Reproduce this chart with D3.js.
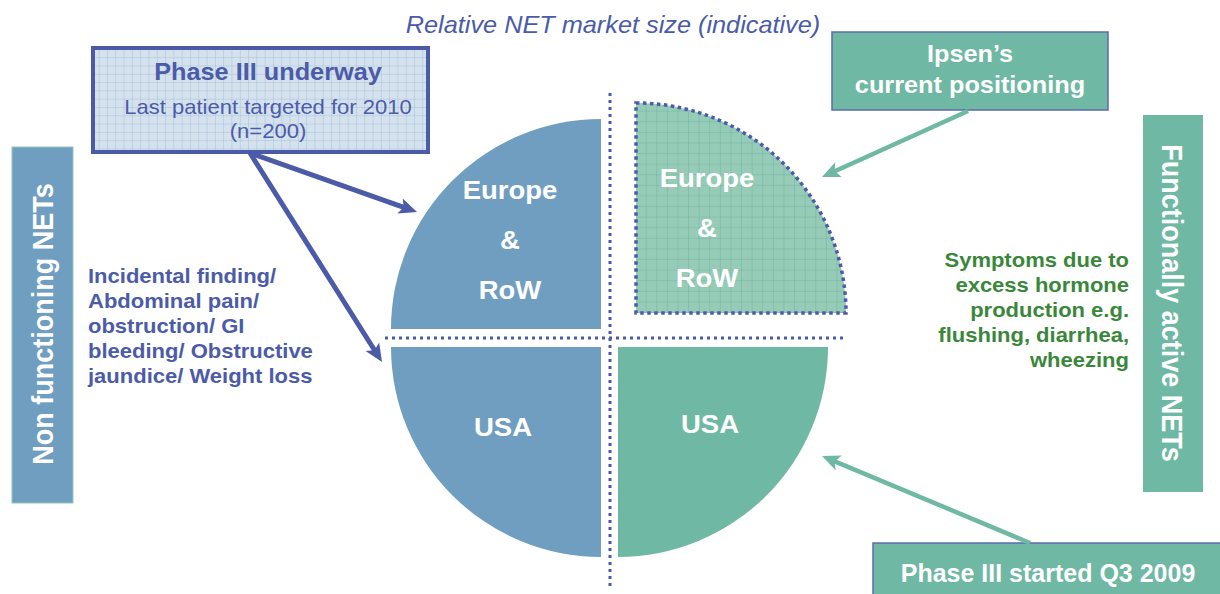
<!DOCTYPE html>
<html>
<head>
<meta charset="utf-8">
<script src="https://cdn.jsdelivr.net/npm/d3@7"></script>
<style>
  body { margin: 0; background: #fff; }
  svg { display: block; }
  text { font-family: "Liberation Sans", Arial, sans-serif; }
</style>
</head>
<body>
<svg id="chart" width="1220" height="594"></svg>
<script>
// Data ---------------------------------------------------------------
const quadrants = ["topLeft", "bottomLeft", "topRight", "bottomRight"];
const regions = ["Europe & RoW", "USA", "Europe & RoW", "USA"];
const segments = ["non functioning", "non functioning", "functionally active", "functionally active"];
const relSize = [1.0, 1.0, 1.0, 1.0]; // relative NET market size (indicative)

const leftNotes = ["Incidental finding/", "Abdominal pain/", "obstruction/ GI", "bleeding/ Obstructive", "jaundice/ Weight loss"];
const rightNotes = ["Symptoms due to", "excess hormone", "production e.g.", "flushing, diarrhea,", "wheezing"];
const trialBox = ["Phase III underway", "Last patient targeted for 2010", "(n=200)"];
const ipsenBox = ["Ipsen\u2019s", "current positioning"];
// --------------------------------------------------------------------

const svg = d3.select("#chart");
const blue = "#709ec1", green = "#6fb8a3", navy = "#4b5ba8", darkGreen = "#3a873c";
const sx = 1.1; // horizontal stretch seen in the source text

// kde sedi kazdy kvadrant (rozhodeny kolac)
const layout = {
  topLeft:     { cx: 601, cy: 329, a0: -Math.PI / 2, a1: 0,               lx: 510, ly: 240 },
  bottomLeft:  { cx: 601, cy: 347, a0: Math.PI,      a1: 3 * Math.PI / 2, lx: 503, ly: 427 },
  topRight:    { cx: 636, cy: 313, a0: 0,            a1: Math.PI / 2,     lx: 707, ly: 228 },
  bottomRight: { cx: 618, cy: 347, a0: Math.PI / 2,  a1: Math.PI,         lx: 710, ly: 424 }
};

const r = d3.scaleSqrt().domain([0, 1]).range([0, 210]);
const arc = d3.arc().innerRadius(0);

// vzory mriezky
const defs = svg.append("defs");
function gridPattern(id, size, fill, line) {
  const p = defs.append("pattern").attr("id", id)
    .attr("patternUnits", "userSpaceOnUse").attr("width", size).attr("height", size);
  p.append("rect").attr("width", size).attr("height", size).attr("fill", fill);
  p.append("path").attr("d", `M${size},0V${size}M0,${size}H${size}`)
    .attr("stroke", line).attr("stroke-width", 1).attr("fill", "none");
}
gridPattern("gridBlue", 8.3, "#d5e2ee", "#a2bfd9");
gridPattern("gridGreen", 10.6, "#96cbb8", "#70b59e");

function marker(id, color) {
  defs.append("marker").attr("id", id)
    .attr("viewBox", "0 -9 20 18").attr("refX", 18).attr("refY", 0)
    .attr("markerUnits", "userSpaceOnUse").attr("markerWidth", 20).attr("markerHeight", 18)
    .attr("orient", "auto")
    .append("path").attr("d", "M0,-8L18,0L0,8L4,0Z").attr("fill", color);
}
marker("headBlue", navy);
marker("headGreen", green);

function txt(x, y, s, o) {
  return svg.append("text")
    .attr("transform", `translate(${x},${y}) scale(${o.sx || sx},1)`)
    .attr("text-anchor", o.anchor || "middle")
    .attr("font-size", o.size)
    .attr("font-weight", o.bold ? "bold" : "normal")
    .attr("font-style", o.italic ? "italic" : "normal")
    .attr("fill", o.color)
    .text(s);
}

function arrow(x1, y1, x2, y2, color, w, head) {
  const len = Math.hypot(x2 - x1, y2 - y1);
  const k = (len - 8) / len;
  svg.append("line")
    .attr("x1", x1).attr("y1", y1)
    .attr("x2", x1 + (x2 - x1) * k).attr("y2", y1 + (y2 - y1) * k)
    .attr("stroke", color).attr("stroke-width", w);
  // samotna hlava sipky na presnom hrote
  svg.append("line")
    .attr("x1", x1 + (x2 - x1) * k).attr("y1", y1 + (y2 - y1) * k)
    .attr("x2", x2).attr("y2", y2)
    .attr("stroke", "none").attr("marker-end", `url(#${head})`);
}

// Nadpis
txt(613, 33, "Relative NET market size (indicative)", { size: 23, italic: true, color: navy });

// Kvadranty
const quads = svg.append("g");
quadrants.forEach((q, i) => {
  const L = layout[q];
  const fill = q === "topRight" ? "url(#gridGreen)" : (segments[i] === "non functioning" ? blue : green);
  const path = arc.outerRadius(r(relSize[i])).startAngle(L.a0).endAngle(L.a1)();
  quads.append("path")
    .attr("transform", `translate(${L.cx},${L.cy})`)
    .attr("d", path)
    .attr("fill", fill)
    .attr("stroke", q === "topRight" ? navy : "none")
    .attr("stroke-width", 3.5)
    .attr("stroke-dasharray", "3.5,3.5");

  const lines = regions[i] === "USA" ? ["USA"] : ["Europe", "&", "RoW"];
  lines.forEach((s, j) => {
    const dy = (j - (lines.length - 1) / 2) * 50 + 9;
    txt(L.lx, L.ly + dy, s, { size: 25, bold: true, color: "#fff" });
  });
});

// Bodkovane osi
svg.append("line").attr("x1", 385).attr("x2", 847).attr("y1", 338).attr("y2", 338)
  .attr("stroke", navy).attr("stroke-width", 3).attr("stroke-dasharray", "3,4");
svg.append("line").attr("x1", 610).attr("x2", 610).attr("y1", 93).attr("y2", 586)
  .attr("stroke", navy).attr("stroke-width", 3).attr("stroke-dasharray", "3,4");

// Box "Phase III underway"
svg.append("rect").attr("x", 93).attr("y", 48).attr("width", 335).attr("height", 104)
  .attr("fill", "url(#gridBlue)").attr("stroke", navy).attr("stroke-width", 4);
txt(268, 80, trialBox[0], { size: 23, bold: true, color: navy });
txt(268, 114, trialBox[1], { size: 20, color: navy });
txt(268, 138, trialBox[2], { size: 20, color: navy });

arrow(250, 153, 417, 212, navy, 5, "headBlue");
arrow(250, 153, 382, 362, navy, 5, "headBlue");

// Box "Ipsen's current positioning"
svg.append("rect").attr("x", 832).attr("y", 32).attr("width", 276).attr("height", 78)
  .attr("fill", green).attr("stroke", "#5b6bb0").attr("stroke-width", 1.5);
txt(970, 62, ipsenBox[0], { size: 23, bold: true, color: "#fff" });
txt(970, 93, ipsenBox[1], { size: 23, bold: true, color: "#fff" });
arrow(968, 111, 822, 177, green, 4.5, "headGreen");

// Box "Phase III started"
svg.append("rect").attr("x", 873).attr("y", 543).attr("width", 360).attr("height", 60)
  .attr("fill", green).attr("stroke", "#5b6bb0").attr("stroke-width", 1.5);
txt(1048, 582, "Phase III started Q3 2009", { size: 25, sx: 1.0, bold: true, color: "#fff" });
arrow(1030, 543, 822, 456, green, 4.5, "headGreen");

// Bocne stitky
svg.append("rect").attr("x", 12).attr("y", 147).attr("width", 61).attr("height", 356)
  .attr("fill", blue).attr("stroke", "#8fcab6").attr("stroke-width", 1);
svg.append("text")
  .attr("transform", "translate(53,324) rotate(-90) scale(1,1.1)")
  .attr("text-anchor", "middle").attr("font-size", 27).attr("font-weight", "bold")
  .attr("fill", "#fff").text("Non functioning NETs");

svg.append("rect").attr("x", 1143).attr("y", 115).attr("width", 60).attr("height", 377)
  .attr("fill", green);
svg.append("text")
  .attr("transform", "translate(1162,303) rotate(90) scale(1,1.1)")
  .attr("text-anchor", "middle").attr("font-size", 27).attr("font-weight", "bold")
  .attr("fill", "#fff").text("Functionally active NETs");

// Popisy symptomov
leftNotes.forEach((s, i) => txt(88, 283 + i * 25, s, { size: 20, bold: true, anchor: "start", color: navy }));
rightNotes.forEach((s, i) => txt(1129, 267 + i * 25, s, { size: 20, bold: true, anchor: "end", color: darkGreen }));
</script>
</body>
</html>
